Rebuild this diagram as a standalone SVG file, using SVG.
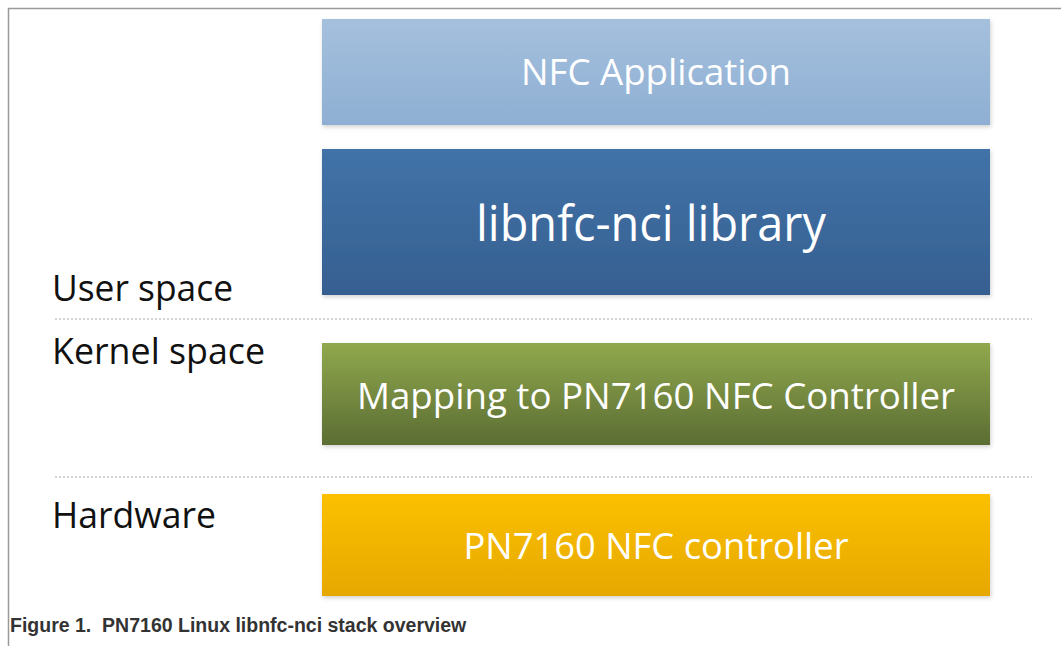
<svg xmlns="http://www.w3.org/2000/svg" width="1061" height="646" viewBox="0 0 1061 646">
<defs>
<linearGradient id="gApp" x1="0" y1="0" x2="0" y2="1"><stop offset="0" stop-color="#a5c0dd"/><stop offset="1" stop-color="#8eafd3"/></linearGradient>
<linearGradient id="gLib" x1="0" y1="0" x2="0" y2="1"><stop offset="0" stop-color="#4173a8"/><stop offset="1" stop-color="#365f90"/></linearGradient>
<linearGradient id="gMap" x1="0" y1="0" x2="0" y2="1"><stop offset="0" stop-color="#90a84d"/><stop offset="1" stop-color="#5b6d33"/></linearGradient>
<linearGradient id="gHw" x1="0" y1="0" x2="0" y2="1"><stop offset="0" stop-color="#fcc000"/><stop offset="1" stop-color="#e6a800"/></linearGradient>
<filter id="sh" x="-5%" y="-10%" width="110%" height="130%"><feDropShadow dx="1" dy="2" stdDeviation="2" flood-color="#000" flood-opacity="0.18"/></filter>
</defs>
<style>
.box{filter:url(#sh)}
.bt{font-family:"Open Sans","Noto Sans",sans-serif;fill:#ffffff;text-anchor:middle}
.lab{font-family:"Open Sans","Noto Sans",sans-serif;fill:#111111;font-size:36px}
.sep{stroke:#c8c8c8;stroke-width:1.5;stroke-dasharray:2 2;fill:none}
.cap{font-family:"Liberation Sans",Arial,sans-serif;font-weight:bold;font-size:19.5px;fill:#333333}
</style>
<rect width="1061" height="646" fill="#ffffff"/>
<path d="M8.5 646 V8.5 H1061" fill="none" stroke="#9a9a9a" stroke-width="1.5"/>
<g id="connectors">
<line class="sep" x1="55" y1="319" x2="1032" y2="319"/>
<line class="sep" x1="55" y1="477" x2="1032" y2="477"/>
</g>
<g id="nfc-application">
<rect class="box" x="322" y="19" width="668" height="106" fill="url(#gApp)"/>
<text class="bt" x="656" y="85" font-size="36" textLength="270" lengthAdjust="spacingAndGlyphs">NFC Application</text>
</g>
<g id="libnfc-nci-library">
<rect class="box" x="322" y="149" width="668" height="146" fill="url(#gLib)"/>
<text class="bt" x="651" y="241" font-size="49" textLength="350" lengthAdjust="spacingAndGlyphs">libnfc-nci library</text>
</g>
<g id="mapping">
<rect class="box" x="322" y="343" width="668" height="102" fill="url(#gMap)"/>
<text class="bt" x="656" y="409" font-size="36" textLength="598" lengthAdjust="spacingAndGlyphs">Mapping to PN7160 NFC Controller</text>
</g>
<g id="pn7160">
<rect class="box" x="322" y="494" width="668" height="102" fill="url(#gHw)"/>
<text class="bt" x="656" y="559" font-size="36" textLength="385" lengthAdjust="spacingAndGlyphs">PN7160 NFC controller</text>
</g>
<g id="layer-labels">
<text class="lab" x="52" y="301" textLength="181" lengthAdjust="spacingAndGlyphs">User space</text>
<text class="lab" x="52" y="364" textLength="213" lengthAdjust="spacingAndGlyphs">Kernel space</text>
<text class="lab" x="52" y="528" textLength="164" lengthAdjust="spacingAndGlyphs">Hardware</text>
</g>
<text class="cap" x="10" y="632" xml:space="preserve">Figure 1.  PN7160 Linux libnfc-nci stack overview</text>
</svg>
